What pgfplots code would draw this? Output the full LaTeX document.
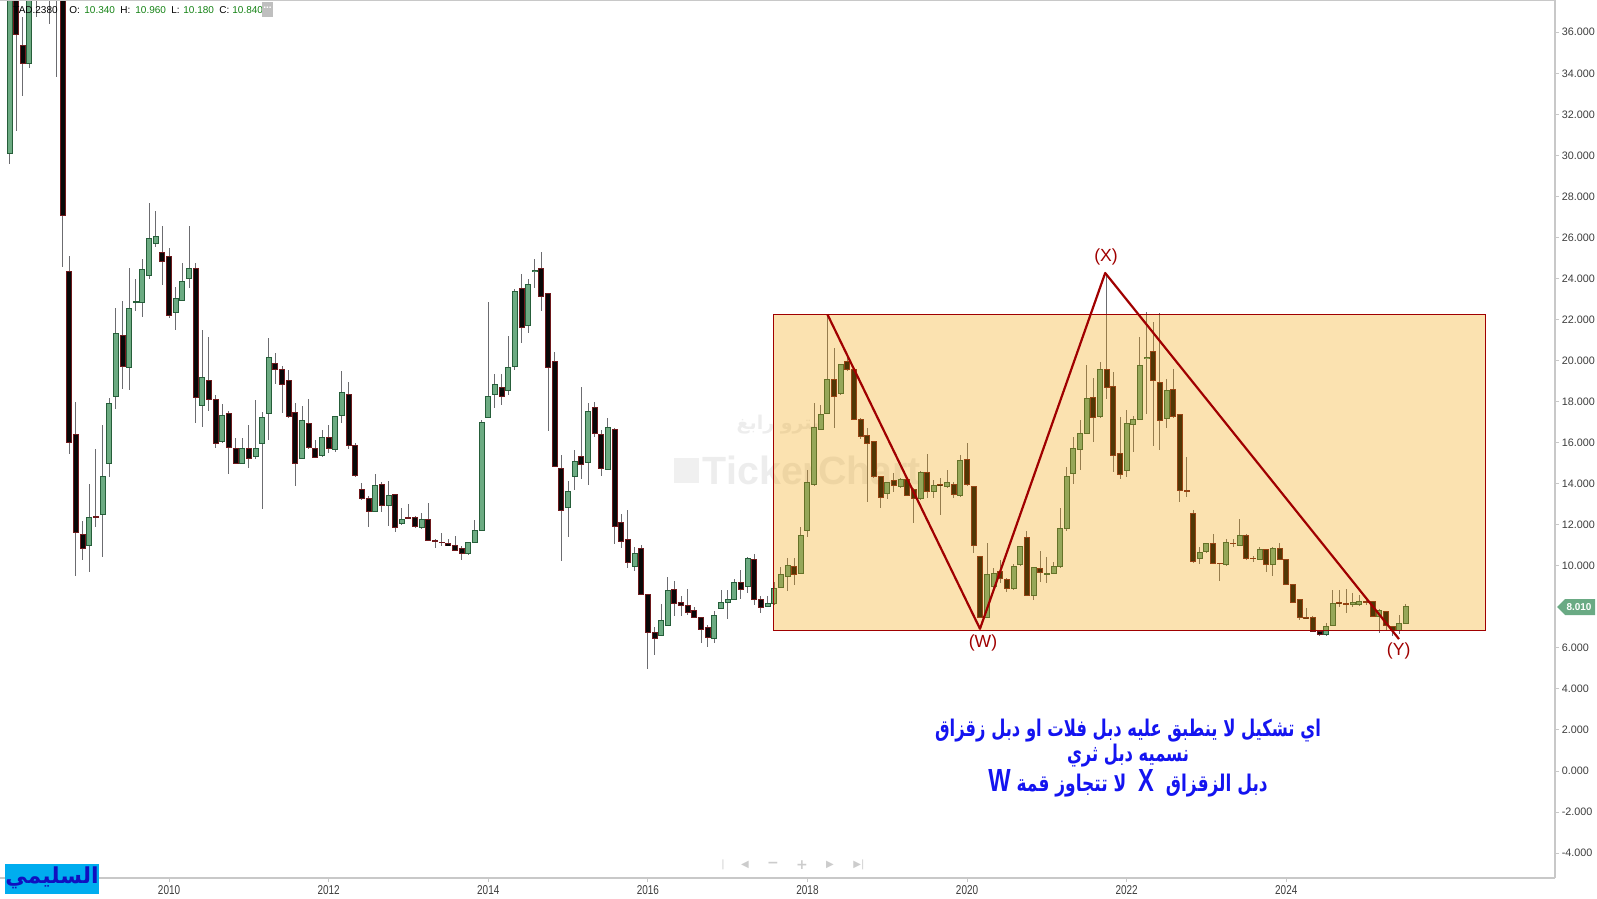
\documentclass[border=0pt]{standalone}
\usepackage{pgfplots}
\pgfplotsset{compat=1.18}
\usepackage{pgfplotstable}
\usepackage{graphicx}
\usepackage{fontspec}
\setmainfont{Liberation Sans}
\newfontfamily\arabicfont[Script=Arabic]{DejaVu Sans}
\newfontfamily\latinfont[BoldFont={Liberation Sans Bold}]{Liberation Sans}
\newfontfamily\symfont{DejaVu Sans}
\TeXXeTstate=1

\definecolor{upfill}{RGB}{108,171,130}
\definecolor{upborder}{RGB}{38,94,58}
\definecolor{dnfill}{RGB}{8,8,8}
\definecolor{dnborder}{RGB}{110,25,28}
\definecolor{wickc}{RGB}{108,108,112}
\definecolor{boxorange}{RGB}{242,161,0}
\definecolor{zzred}{RGB}{160,0,0}
\definecolor{axgray}{RGB}{200,200,200}
\definecolor{lblgray}{RGB}{60,60,60}
\definecolor{valgreen}{RGB}{20,130,20}
\definecolor{arblue}{RGB}{20,20,240}
\definecolor{tagfill}{RGB}{106,170,132}

\pgfplotstableread{
i o h l c
0 30.09 42.00 29.58 40.00
1 41.00 43.00 31.19 35.89
2 35.36 36.76 32.91 34.49
3 34.49 41.00 34.27 39.50
4 39.00 42.00 36.75 40.00
5 40.00 43.00 38.00 41.00
6 41.00 44.00 36.40 40.00
7 40.00 42.00 33.83 39.00
8 39.00 40.00 24.58 27.05
9 24.36 25.08 15.47 16.00
10 16.41 17.96 9.50 11.60
11 11.52 12.16 10.30 10.86
12 10.99 13.99 9.70 12.35
13 12.40 15.69 11.89 12.36
14 12.51 16.86 10.43 14.34
15 15.00 18.19 14.34 17.90
16 18.26 22.56 17.64 21.31
17 21.22 22.92 18.60 19.73
18 19.68 24.52 18.55 22.56
19 22.83 23.97 22.40 22.87
20 22.83 24.95 22.11 24.44
21 24.13 27.69 23.98 25.97
22 25.72 27.30 25.56 26.05
23 25.27 26.55 23.70 24.83
24 25.08 25.47 22.08 22.20
25 22.34 23.60 21.47 23.04
26 22.93 24.78 22.90 23.86
27 24.02 26.55 23.56 24.50
28 24.47 24.78 16.95 18.22
29 17.81 21.47 16.77 19.17
30 19.03 21.13 17.55 18.10
31 18.11 18.34 15.73 15.98
32 16.04 17.90 15.99 17.33
33 17.44 17.55 14.46 15.78
34 15.73 16.25 14.95 15.00
35 15.00 16.25 14.95 15.73
36 15.73 16.86 14.77 15.24
37 15.33 18.07 15.20 15.73
38 15.98 17.50 12.75 17.24
39 17.42 21.09 16.13 20.16
40 19.87 20.36 18.84 19.59
41 19.57 19.74 17.46 18.84
42 19.01 19.54 17.21 17.29
43 17.47 17.91 13.89 14.99
44 15.23 17.79 15.22 17.08
45 16.94 18.13 15.70 15.77
46 15.72 16.13 15.23 15.29
47 15.38 16.62 15.30 16.26
48 16.26 16.85 15.51 15.72
49 15.67 17.30 15.56 17.28
50 17.34 19.47 16.97 18.45
51 18.35 18.97 15.69 15.87
52 15.87 15.97 14.34 14.40
53 13.73 14.05 13.20 13.28
54 13.28 13.40 11.87 12.65
55 12.65 14.45 12.60 13.91
56 13.96 14.10 12.64 12.94
57 12.94 14.13 11.96 13.44
58 13.48 13.50 11.65 11.87
59 12.06 12.80 12.00 12.27
60 12.37 13.01 12.30 12.33
61 12.35 12.45 11.85 11.90
62 11.87 12.58 11.80 12.26
63 12.26 13.08 11.20 11.23
64 11.23 11.29 10.85 11.19
65 11.16 11.61 10.96 11.12
66 11.07 11.29 10.95 11.00
67 11.00 11.47 10.70 10.73
68 10.85 10.95 10.28 10.60
69 10.60 11.14 10.55 11.14
70 11.14 12.23 11.10 11.73
71 11.73 17.10 11.73 16.99
72 17.24 22.87 17.20 18.26
73 18.35 19.33 17.70 18.84
74 18.69 19.33 17.82 18.26
75 18.55 21.20 18.30 19.67
76 19.72 23.50 19.54 23.39
77 23.52 24.20 20.84 21.62
78 21.71 24.00 21.33 23.71
79 24.36 24.93 23.55 24.41
80 24.49 25.27 22.40 23.13
81 23.25 23.30 16.59 19.66
82 19.98 20.44 14.84 14.84
83 14.75 15.38 10.23 12.70
84 12.84 14.13 11.38 13.62
85 14.35 15.63 13.67 15.08
86 15.33 18.69 14.21 14.94
87 15.03 17.92 13.92 17.52
88 17.72 17.97 16.30 16.45
89 16.40 16.64 14.36 14.74
90 14.69 17.18 14.69 16.74
91 16.64 16.70 11.05 11.92
92 12.12 12.51 10.85 11.19
93 11.29 12.70 9.88 10.16
94 9.97 10.90 9.73 10.60
95 10.85 11.00 8.56 8.58
96 8.60 8.65 4.96 6.76
97 6.76 7.00 5.64 6.46
98 6.60 8.12 6.60 7.34
99 7.10 9.44 7.10 8.81
100 8.86 9.24 7.54 8.18
101 8.22 8.51 7.54 8.07
102 8.07 8.86 7.59 7.73
103 7.83 8.00 7.48 7.49
104 7.49 7.50 6.22 6.90
105 7.00 7.10 6.03 6.51
106 6.46 7.78 6.22 7.59
107 7.92 8.81 7.90 8.22
108 8.22 8.81 7.39 8.37
109 8.37 9.34 8.37 9.20
110 9.20 9.78 8.37 8.86
111 9.00 10.44 8.66 10.36
112 10.31 10.56 8.09 8.37
113 8.37 8.53 7.68 7.97
114 8.04 8.53 8.00 8.16
115 8.16 9.20 8.10 8.89
116 8.94 9.96 8.90 9.58
117 9.48 10.36 8.77 10.00
118 9.97 10.36 9.06 9.60
119 9.62 11.90 9.60 11.48
120 11.70 14.66 11.38 14.07
121 13.96 17.92 13.90 16.73
122 16.66 17.84 16.60 17.37
123 17.42 22.22 17.40 19.08
124 19.08 20.60 16.73 18.27
125 18.40 19.85 18.30 19.81
126 19.94 20.27 19.50 19.57
127 19.57 19.60 17.10 17.15
128 17.15 17.20 16.20 16.32
129 16.33 16.73 13.12 15.97
130 16.06 16.10 14.30 14.33
131 14.34 14.40 12.80 13.35
132 13.52 14.10 13.26 14.04
133 14.16 14.50 13.60 13.92
134 13.85 14.30 13.80 14.21
135 14.21 14.30 13.40 13.43
136 13.74 13.80 12.11 13.27
137 13.27 14.60 13.20 14.55
138 14.55 15.47 13.30 13.60
139 13.63 14.20 13.30 13.89
140 13.96 14.30 12.48 13.89
141 13.85 14.67 13.80 14.06
142 13.96 14.10 13.30 13.47
143 13.41 15.40 13.35 15.13
144 15.16 15.99 13.90 13.96
145 13.86 13.90 10.60 10.99
146 10.45 10.50 7.48 7.48
147 7.48 11.09 7.45 9.60
148 8.99 9.87 8.90 9.62
149 9.71 10.28 9.14 9.39
150 9.33 9.40 8.74 8.89
151 8.89 10.10 8.80 9.97
152 10.07 10.95 10.00 10.95
153 11.38 11.70 8.53 8.55
154 8.53 9.92 8.33 9.90
155 9.87 10.72 9.23 9.68
156 9.58 10.44 9.14 9.62
157 9.62 10.20 9.60 9.97
158 9.97 12.80 9.90 11.80
159 11.81 14.82 11.70 14.36
160 14.51 16.28 14.01 15.71
161 15.67 17.10 14.67 16.45
162 16.45 19.79 16.40 18.14
163 18.20 19.13 16.04 17.24
164 17.26 19.94 17.20 19.57
165 19.57 24.27 18.13 18.69
166 18.75 19.46 14.59 15.38
167 15.47 17.26 14.21 14.46
168 14.64 17.58 14.34 16.94
169 16.89 17.30 15.56 17.15
170 17.15 21.16 17.10 19.77
171 20.08 22.38 17.42 20.16
172 20.43 21.90 15.84 19.05
173 18.94 22.33 15.64 17.06
174 17.19 19.10 16.72 18.52
175 18.57 19.57 17.20 17.29
176 17.38 17.40 13.12 13.67
177 13.68 15.31 13.33 13.64
178 12.56 12.72 10.12 10.23
179 10.36 10.92 10.10 10.65
180 10.69 11.10 10.60 11.09
181 11.09 11.57 10.10 10.12
182 10.13 10.15 9.26 10.11
183 10.06 11.33 10.00 11.14
184 11.10 11.30 10.90 11.08
185 11.01 12.27 11.00 11.50
186 11.50 11.55 10.30 10.36
187 10.37 10.50 10.20 10.35
188 10.31 10.90 10.30 10.79
189 10.79 10.80 9.71 10.06
190 10.06 10.90 9.50 10.85
191 10.85 11.09 10.30 10.31
192 10.31 10.35 9.09 9.10
193 9.09 9.10 8.22 8.23
194 8.37 8.40 7.36 7.48
195 7.48 7.93 7.40 7.43
196 7.48 7.55 6.79 6.80
197 6.80 6.85 6.58 6.67
198 6.67 7.20 6.60 7.03
199 7.10 8.82 7.10 8.16
200 8.19 8.80 8.00 8.14
201 8.17 8.89 7.71 8.15
202 8.12 8.69 8.00 8.22
203 8.12 8.60 8.05 8.26
204 8.26 8.40 8.10 8.24
205 8.25 8.30 7.50 7.51
206 7.51 7.90 6.71 7.83
207 7.76 7.80 6.80 7.11
208 7.03 7.05 6.60 6.84
209 6.84 7.60 6.70 7.19
210 7.19 8.14 7.15 8.01
}\candles

\pgfplotsset{
  candlepart/.style n args={2}{draw=none, no markers, forget plot,
    error bars/.cd, y dir=both, y explicit, error mark=none,
    error bar style={draw=#1, solid, line width=#2}, /pgfplots/.cd},
}

\begin{document}
\begin{tikzpicture}
\path[use as bounding box] (0pt,0pt) rectangle (798.5pt,-449.5pt);
\begin{scope}[x=0.5pt,y=-0.5pt]
  % watermark
  \fill[black!6] (674,458) rectangle (699,483);
  \node[text=black!7, font=\bfseries\fontsize{19.7}{20}\selectfont] at (812,470) {TickerChart};
  \node[text=black!7, font=\arabicfont\bfseries\fontsize{9.5}{11}\selectfont] at (778,425) {\beginR بترو رابغ\endR};
\end{scope}

\begin{axis}[
  at={(0pt,-439pt)}, anchor=south west,
  scale only axis, width=777.5pt, height=439pt,
  xmin=-1.4286, xmax=232.41, ymin=-5.214, ymax=37.573,
  enlargelimits=false,
  clip mode=individual,
  axis x line*=bottom, axis y line*=right,
  axis line style={-, draw=axgray, line width=0.75pt},
  tick align=outside,
  major tick length=2pt,
  tick style={draw=axgray, line width=0.5pt},
  xtick={24,48,72,96,120,144,168,192},
  xticklabels={\scalebox{0.78}[1]{2010},\scalebox{0.78}[1]{2012},\scalebox{0.78}[1]{2014},\scalebox{0.78}[1]{2016},\scalebox{0.78}[1]{2018},\scalebox{0.78}[1]{2020},\scalebox{0.78}[1]{2022},\scalebox{0.78}[1]{2024}},
  xticklabel style={font=\fontsize{6.4}{7}\selectfont, text=lblgray, inner sep=0pt, yshift=-1.5pt},
  ytick={-4,-2,0,2,4,6,10,12,14,16,18,20,22,24,26,28,30,32,34,36},
  yticklabel style={font=\fontsize{5.4}{6}\selectfont, text=lblgray, anchor=west, inner sep=0pt, xshift=1.2pt,
    /pgf/number format/.cd, fixed, fixed zerofill, precision=3, 1000 sep={}, assume math mode=true},
]
% wicks
\addplot[candlepart={wickc}{0.5pt}]
  table[x=i, y expr={(\thisrow{h}+\thisrow{l})/2}, y error expr={(\thisrow{h}-\thisrow{l})/2}] {\candles};
% up bodies: border then fill
\addplot[restrict expr to domain={\thisrow{c}-\thisrow{o}}{0:100}, candlepart={upborder}{3pt}]
  table[x=i, y expr={(\thisrow{o}+\thisrow{c})/2}, y error expr={abs(\thisrow{c}-\thisrow{o})/2+0.0244}] {\candles};
\addplot[restrict expr to domain={\thisrow{c}-\thisrow{o}}{0:100}, candlepart={upfill}{2pt}]
  table[x=i, y expr={(\thisrow{o}+\thisrow{c})/2}, y error expr={max(abs(\thisrow{c}-\thisrow{o})/2-0.0244,0)}] {\candles};
% down bodies
\addplot[restrict expr to domain={\thisrow{c}-\thisrow{o}}{-100:-0.0001}, candlepart={dnborder}{3pt}]
  table[x=i, y expr={(\thisrow{o}+\thisrow{c})/2}, y error expr={abs(\thisrow{c}-\thisrow{o})/2+0.0244}] {\candles};
\addplot[restrict expr to domain={\thisrow{c}-\thisrow{o}}{-100:-0.0001}, candlepart={dnfill}{2pt}]
  table[x=i, y expr={(\thisrow{o}+\thisrow{c})/2}, y error expr={max(abs(\thisrow{c}-\thisrow{o})/2-0.0244,0)}] {\candles};
% overlay rectangle
\addplot[draw=zzred, line width=0.5pt, fill=boxorange, fill opacity=0.31] coordinates
  {(114.95,6.86) (221.98,6.86) (221.98,22.25) (114.95,22.25)} -- cycle;
% zigzag
\addplot[draw=zzred, line width=1.1pt, line join=round] coordinates
  {(123.0,22.25) (145.94,6.93) (164.77,24.27) (208.95,6.43)};
% top border
\draw[axgray, line width=0.75pt] (rel axis cs:0,1) -- (rel axis cs:1,1);
% wave labels
\node[text=zzred, font=\fontsize{8.8}{10}\selectfont] at (axis cs:164.9,25.05) {(X)};
\node[text=zzred, font=\fontsize{8.8}{10}\selectfont] at (axis cs:146.4,6.24) {(W)};
\node[text=zzred, font=\fontsize{8.8}{10}\selectfont] at (axis cs:208.9,5.85) {(Y)};
\end{axis}

\begin{scope}[x=0.5pt,y=-0.5pt]
  % header (drawn over the candles)
  \node[anchor=west, inner sep=0pt, text=black, font=\fontsize{5}{6}\selectfont] at (13,10) {TAD.2380};
  \node[anchor=west, inner sep=0pt, text=black, font=\fontsize{5}{6}\selectfont] at (69,10) {O:};
  \node[anchor=west, inner sep=0pt, text=valgreen, font=\fontsize{5}{6}\selectfont] at (84,10) {10.340};
  \node[anchor=west, inner sep=0pt, text=black, font=\fontsize{5}{6}\selectfont] at (120,10) {H:};
  \node[anchor=west, inner sep=0pt, text=valgreen, font=\fontsize{5}{6}\selectfont] at (135,10) {10.960};
  \node[anchor=west, inner sep=0pt, text=black, font=\fontsize{5}{6}\selectfont] at (171,10) {L:};
  \node[anchor=west, inner sep=0pt, text=valgreen, font=\fontsize{5}{6}\selectfont] at (183,10) {10.180};
  \node[anchor=west, inner sep=0pt, text=black, font=\fontsize{5}{6}\selectfont] at (219,10) {C:};
  \node[anchor=west, inner sep=0pt, text=valgreen, font=\fontsize{5}{6}\selectfont] at (232,10) {10.840};
  \fill[black!25] (262,2) rectangle (273,17);
  \node[text=white, inner sep=0pt, font=\fontsize{5}{6}\selectfont] at (267.5,8) {\textbf{...}};
  % last price tag
  \fill[tagfill] (1557,607) -- (1565,599) -- (1595,599) -- (1595,615) -- (1565,615) -- cycle;
  \node[text=white, inner sep=0pt, font=\bfseries\fontsize{5}{6}\selectfont] at (1579,607) {8.010};
  % Arabic note
  \node[text=arblue, align=center, font=\arabicfont\bfseries\fontsize{11.5}{12.7}\selectfont] at (1128,758)
   {\scalebox{0.71}[1]{\beginR اي تشكيل لا ينطبق عليه دبل فلات او دبل  زقزاق\endR}\\
    \scalebox{0.71}[1]{\beginR نسميه دبل ثري\endR}\\
    \scalebox{0.74}[1]{\beginR دبل الزقزاق\ \ {\latinfont\bfseries\fontsize{16}{16}\selectfont X}\ \ لا تتجاوز قمة {\latinfont\bfseries\fontsize{16}{16}\selectfont W}\endR}};
  % nav buttons
  \node[text=black!20, font=\symfont\fontsize{5}{6}\selectfont] at (723,865) {|};
  \node[text=black!20, font=\symfont\fontsize{5}{6}\selectfont] at (745,865) {◀};
  \node[text=black!20, font=\symfont\bfseries\fontsize{7}{8}\selectfont] at (773,865) {−};
  \node[text=black!20, font=\symfont\bfseries\fontsize{7}{8}\selectfont] at (802,865) {+};
  \node[text=black!20, font=\symfont\fontsize{5}{6}\selectfont] at (830,865) {▶};
  \node[text=black!20, font=\symfont\fontsize{5}{6}\selectfont] at (859,865) {▶|};
  % signature box
  \fill[cyan] (5,864) rectangle (99,894);
  \node[text=arblue!80!black, font=\arabicfont\bfseries\fontsize{11}{12}\selectfont] at (52,878) {\beginR السليمي\endR};
\end{scope}
\end{tikzpicture}
\end{document}
